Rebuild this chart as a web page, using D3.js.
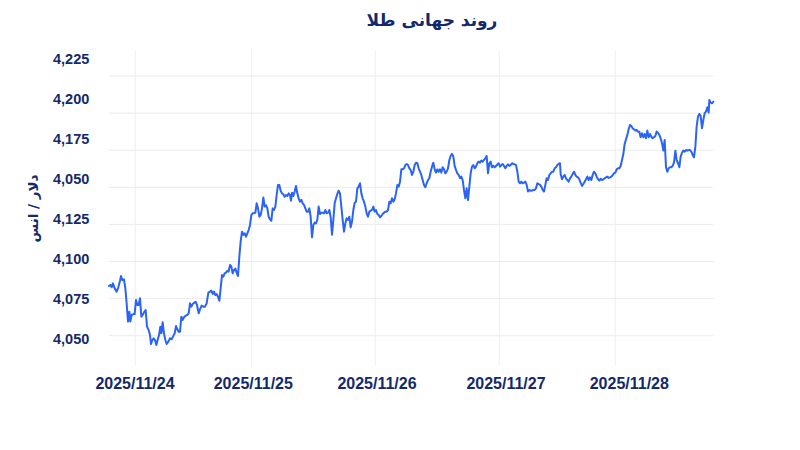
<!DOCTYPE html>
<html>
<head>
<meta charset="utf-8">
<script src="https://cdn.jsdelivr.net/npm/d3@7"></script>
<style>
  html, body { margin: 0; padding: 0; background: #ffffff; }
  svg { display: block; }
</style>
</head>
<body>
<svg id="chart" width="800" height="450"></svg>
<script>
// ---- Data ----
const chartTitle = "روند جهانی طلا";
const yAxisTitle = "دلار / انس";

// y tick labels, top to bottom, as printed on the reference
const yTickLabels = ["4,225", "4,200", "4,175", "4,050", "4,125", "4,100", "4,075", "4,050"];
// values of the horizontal gridlines
const yGridValues = [4050, 4075, 4100, 4125, 4150, 4175, 4200, 4225];

// x axis: hours since start of series
const xTickLabels = ["2025/11/24", "2025/11/25", "2025/11/26", "2025/11/27", "2025/11/28"];
const xGridHours = [5.26, 28.54, 53.26, 78.06, 101.26];
const xLabelHours = [5.2, 28.86, 53.6, 79.4, 104.06];

// [hour, price]
const goldPrice = [
[0,4083.5],[0.33,4084.2],[0.53,4082.6],[0.8,4085.3],[1.13,4081.9],[1.53,4079.7],[1.87,4082.6],[2.2,4087.1],[2.4,4090.2],[2.67,4087.5],
[3.0,4088.0],[3.27,4081.9],[3.53,4071.8],[3.8,4059.5],[4.07,4066.2],[4.27,4059.5],[4.53,4064.0],[4.87,4064.6],[5.13,4064.6],[5.4,4074.1],
[5.67,4070.7],[5.93,4070.7],[6.2,4075.2],[6.47,4062.8],[6.73,4064.0],[7.07,4066.2],[7.33,4067.3],[7.6,4056.1],[7.87,4054.3],[8.2,4050.5],
[8.4,4044.4],[8.67,4047.1],[8.93,4048.2],[9.2,4047.1],[9.47,4043.7],[9.73,4047.1],[10.0,4050.5],[10.27,4056.1],[10.47,4051.6],[10.73,4059.0],
[11.0,4051.6],[11.27,4047.1],[11.53,4044.4],[11.87,4046.0],[12.2,4048.2],[12.53,4047.6],[12.8,4049.4],[13.13,4051.6],[13.4,4056.5],[13.67,4054.3],
[13.93,4052.7],[14.2,4052.7],[14.47,4062.8],[14.73,4060.6],[15.0,4062.4],[15.27,4063.3],[15.67,4064.0],[15.93,4065.1],[16.2,4071.8],[16.47,4069.6],
[16.73,4071.4],[17.07,4072.3],[17.33,4072.9],[17.6,4070.7],[17.93,4065.1],[18.2,4067.8],[18.53,4070.3],[18.87,4069.6],[19.2,4069.6],[19.53,4071.8],
[19.87,4079.0],[20.2,4079.7],[20.47,4080.4],[20.73,4078.1],[21.0,4079.7],[21.27,4077.4],[21.53,4078.1],[21.8,4076.3],[22.07,4073.6],[22.33,4081.9],
[22.6,4090.9],[22.87,4089.8],[23.13,4092.0],[23.4,4092.5],[23.67,4093.8],[23.93,4093.2],[24.2,4097.7],[24.47,4096.5],[24.73,4092.0],[25.0,4094.3],
[25.27,4095.2],[25.53,4092.5],[25.8,4090.2],[26.07,4103.3],[26.33,4113.4],[26.6,4120.1],[26.87,4117.9],[27.13,4119.0],[27.4,4116.7],[27.67,4119.0],
[27.93,4121.2],[28.2,4124.6],[28.47,4131.3],[28.73,4132.5],[29.0,4132.5],[29.27,4132.9],[29.53,4139.2],[29.8,4135.8],[30.07,4130.2],
[30.33,4131.3],[30.6,4135.8],[30.87,4143.2],[31.13,4137.0],[31.4,4137.9],[31.67,4135.8],[31.93,4130.2],[32.2,4128.4],[32.47,4127.5],[32.73,4135.8],
[33.0,4134.7],[33.27,4137.0],[33.53,4144.8],[33.8,4151.6],[34.07,4151.6],[34.33,4147.7],[34.6,4145.9],[34.87,4145.3],[35.13,4143.7],[35.4,4144.8],
[35.67,4144.1],[35.93,4145.9],[36.2,4144.8],[36.4,4141.0],[36.6,4146.4],[36.87,4144.1],[37.13,4147.1],[37.4,4150.9],[37.67,4145.9],[37.93,4142.6],
[38.2,4140.3],[38.47,4141.5],[38.73,4139.2],[39.0,4138.1],[39.27,4135.8],[39.53,4133.6],[39.8,4133.6],[40.07,4135.8],[40.33,4130.2],[40.6,4116.3],
[40.87,4124.6],[41.13,4126.2],[41.4,4125.7],[41.67,4128.0],[41.93,4137.0],[42.2,4132.0],[42.47,4132.9],[42.73,4132.9],[43.0,4132.5],[43.27,4134.7],
[43.53,4132.5],[43.8,4132.9],[44.07,4134.7],[44.33,4129.8],[44.6,4118.1],[44.87,4128.0],[45.13,4139.2],[45.4,4142.6],[45.67,4145.5],[45.93,4147.7],
[46.2,4145.9],[46.47,4137.0],[46.73,4128.0],[47.0,4120.1],[47.27,4125.7],[47.53,4129.1],[47.8,4128.0],[48.07,4130.2],[48.33,4123.0],[48.6,4126.9],
[48.87,4134.7],[49.13,4139.6],[49.4,4140.3],[49.67,4149.3],[49.93,4150.4],[50.2,4152.7],[50.47,4145.9],[50.73,4142.6],[51.0,4140.3],[51.27,4137.0],
[51.53,4132.5],[51.8,4130.2],[52.07,4133.6],[52.33,4134.3],[52.6,4134.7],[52.87,4137.0],[53.13,4133.6],[53.4,4134.7],[53.67,4132.0],[53.93,4131.3],
[54.2,4129.8],[54.47,4130.7],[54.73,4132.0],[55.0,4132.9],[55.27,4133.6],[55.53,4133.6],[55.8,4134.7],[56.07,4140.3],[56.33,4139.2],[56.6,4142.6],
[56.87,4140.3],[57.13,4141.9],[57.4,4145.9],[57.67,4151.6],[57.93,4150.4],[58.2,4153.8],[58.47,4162.1],[58.73,4162.1],[59.0,4162.8],[59.27,4165.0],
[59.53,4165.7],[59.8,4165.0],[60.07,4162.8],
[60.33,4161.7],[60.6,4158.3],[60.87,4160.5],[61.13,4165.0],[61.4,4166.6],[61.67,4166.2],[61.93,4162.8],[62.2,4160.5],[62.47,4158.3],[62.73,4154.9],
[63.0,4151.6],[63.27,4150.0],[63.53,4152.7],[63.8,4154.9],[64.07,4156.1],[64.33,4160.5],[64.6,4163.9],[64.87,4166.6],[65.13,4162.1],[65.4,4159.9],
[65.67,4162.1],[65.93,4160.5],[66.2,4162.1],[66.47,4159.9],[66.73,4163.5],[67.0,4162.1],[67.27,4159.4],[67.53,4160.5],[67.8,4162.8],[68.07,4168.4],
[68.33,4171.1],[68.6,4172.5],[68.87,4170.7],[69.13,4164.4],[69.4,4161.7],[69.67,4159.4],[69.93,4158.3],[70.2,4156.1],[70.47,4157.2],[70.73,4154.9],
[71.0,4148.2],[71.27,4142.6],[71.53,4149.3],[71.8,4141.4],[72.07,4150.4],[72.33,4159.4],[72.6,4163.9],[72.87,4165.0],[73.13,4162.8],[73.4,4163.9],
[73.67,4166.2],[73.93,4167.3],[74.2,4166.6],[74.47,4168.0],[74.73,4167.3],[75.0,4168.4],[75.27,4169.5],[75.53,4171.1],[75.8,4159.4],[76.07,4166.2],
[76.33,4167.3],[76.6,4163.5],[76.87,4164.4],[77.13,4163.5],[77.4,4164.4],[77.67,4165.3],[77.93,4166.2],[78.2,4163.9],[78.47,4165.0],[78.73,4165.7],
[79.0,4164.4],[79.27,4162.8],[79.53,4164.4],[79.8,4165.5],[80.07,4164.4],[80.33,4165.0],[80.6,4166.2],[80.87,4165.7],[81.13,4165.5],[81.4,4165.0],
[81.67,4160.5],[81.93,4153.8],[82.2,4152.7],[82.47,4153.8],[82.73,4152.7],[83.0,4153.1],[83.27,4153.8],[83.53,4151.6],[83.8,4147.1],[84.07,4148.2],
[84.33,4147.7],[84.6,4147.7],[84.87,4148.2],[85.13,4148.2],[85.4,4149.3],[85.67,4152.7],[85.93,4152.2],[86.2,4151.6],[86.47,4150.4],[86.73,4148.2],
[87.0,4147.1],[87.27,4151.6],[87.53,4156.1],[87.8,4154.9],[88.07,4158.3],[88.33,4159.4],[88.6,4160.5],[88.87,4160.5],[89.13,4162.8],[89.4,4163.5],
[89.67,4165.0],[89.93,4165.7],[90.2,4166.2],
[90.33,4159.0],[90.6,4155.4],[90.87,4157.2],[91.13,4158.3],[91.4,4156.0],[91.67,4154.9],[91.93,4153.8],[92.2,4156.0],[92.47,4157.2],[92.73,4159.0],
[93.0,4160.5],[93.27,4158.3],[93.53,4157.2],[93.8,4156.7],[94.07,4155.4],[94.33,4153.1],[94.6,4150.9],[94.87,4152.2],[95.13,4153.8],[95.4,4155.4],
[95.67,4157.2],[95.93,4154.9],[96.2,4156.7],[96.47,4154.9],[96.73,4158.3],[97.0,4160.5],[97.27,4159.4],[97.53,4157.2],[97.8,4155.4],[98.07,4154.5],
[98.33,4155.8],[98.6,4154.9],[98.87,4155.4],[99.13,4156.0],[99.4,4156.7],[99.67,4157.2],[99.93,4156.3],[100.2,4156.7],[100.47,4157.2],[100.73,4158.1],
[101.0,4159.4],[101.27,4159.9],[101.53,4162.1],[101.8,4162.8],[102.07,4162.8],[102.33,4164.4],[102.6,4168.4],[102.87,4172.4],[103.13,4179.2],[103.4,4182.3],
[103.67,4185.3],[103.93,4189.1],[104.2,4192.0],[104.47,4191.3],[104.73,4189.7],[105.0,4189.1],[105.27,4188.2],[105.53,4188.6],[105.8,4187.5],[106.07,4187.5],
[106.33,4183.7],[106.6,4186.4],[106.87,4183.7],[107.13,4185.9],[107.4,4183.0],[107.67,4188.2],[107.93,4183.7],[108.2,4185.9],[108.47,4184.1],[108.73,4183.0],
[109.0,4183.7],[109.27,4184.6],[109.53,4187.5],[109.8,4186.8],[110.07,4185.3],[110.33,4183.0],[110.6,4179.6],[110.87,4174.7],[111.13,4181.9],[111.4,4163.5],
[111.67,4160.5],[111.93,4162.8],[112.2,4163.5],[112.47,4163.5],[112.73,4164.4],[113.0,4166.6],[113.27,4174.7],[113.53,4168.4],[113.8,4166.2],[114.07,4163.5],
[114.33,4170.7],[114.6,4173.3],[114.87,4174.7],[115.13,4174.0],[115.4,4175.1],[115.67,4174.7],[115.93,4175.1],[116.2,4175.1],[116.47,4174.0],[116.73,4171.8],
[117.0,4170.2],[117.27,4177.4],[117.53,4190.9],[117.8,4197.6],[118.07,4199.4],[118.33,4198.1],[118.6,4189.7],[118.87,4195.4],[119.13,4199.9],[119.4,4201.0],
[119.67,4203.9],[119.93,4200.3],[120.07,4208.8],[120.33,4207.0],[120.6,4206.6],[120.87,4207.7]
];

// ---- Drawing ----
const navy = "#13296a";
const svg = d3.select("#chart");

const x = d3.scaleLinear().domain([0, 120.9]).range([109, 713.5]);
const y = d3.scaleLinear().domain([4029.6, 4242.5]).range([366, 50]);
const yLab = d3.scalePoint().domain(d3.range(yTickLabels.length)).range([58.3, 338.3]);

// vertical gridlines
svg.append("g").selectAll("line").data(xGridHours).join("line")
  .attr("x1", d => x(d)).attr("x2", d => x(d))
  .attr("y1", y.range()[1]).attr("y2", y.range()[0])
  .attr("stroke", "#edf1f4").attr("stroke-width", 1);

// horizontal gridlines
svg.append("g").selectAll("line").data(yGridValues).join("line")
  .attr("x1", x.range()[0]).attr("x2", x.range()[1])
  .attr("y1", d => y(d)).attr("y2", d => y(d))
  .attr("stroke", "#ebebeb").attr("stroke-width", 1);

// y tick labels
svg.append("g").selectAll("text").data(yTickLabels).join("text")
  .attr("x", 53)
  .attr("y", (d, i) => yLab(i) + 5.3)
  .attr("text-anchor", "start")
  .attr("font-family", "'Liberation Sans', Arial, sans-serif")
  .attr("font-weight", "bold")
  .attr("font-size", "14.5px")
  .attr("fill", navy)
  .text(d => d);

// x tick labels
svg.append("g").selectAll("text").data(xTickLabels).join("text")
  .attr("x", (d, i) => x(xLabelHours[i]))
  .attr("y", 388.5)
  .attr("text-anchor", "middle")
  .attr("font-family", "'Liberation Sans', Arial, sans-serif")
  .attr("font-weight", "bold")
  .attr("font-size", "16px")
  .attr("fill", navy)
  .text(d => d);

// line
const line = d3.line().x(d => x(d[0])).y(d => y(d[1])).curve(d3.curveLinear);
svg.append("path").datum(goldPrice)
  .attr("d", line)
  .attr("fill", "none")
  .attr("stroke", "#2a63f6")
  .attr("stroke-width", 2)
  .attr("stroke-linejoin", "round")
  .attr("stroke-linecap", "round");

// title
svg.append("text")
  .attr("x", 432).attr("y", 26)
  .attr("text-anchor", "middle")
  .attr("direction", "rtl")
  .attr("font-family", "'DejaVu Sans', 'Noto Sans', sans-serif")
  .attr("font-weight", "bold")
  .attr("font-size", "17px")
  .attr("fill", navy)
  .text(chartTitle);

// y axis title
svg.append("text")
  .attr("transform", "translate(38,208.5) rotate(-90)")
  .attr("text-anchor", "middle")
  .attr("direction", "rtl")
  .attr("font-family", "'DejaVu Sans', 'Noto Sans', sans-serif")
  .attr("font-weight", "bold")
  .attr("font-size", "13.5px")
  .attr("fill", navy)
  .text(yAxisTitle);
</script>
</body>
</html>
